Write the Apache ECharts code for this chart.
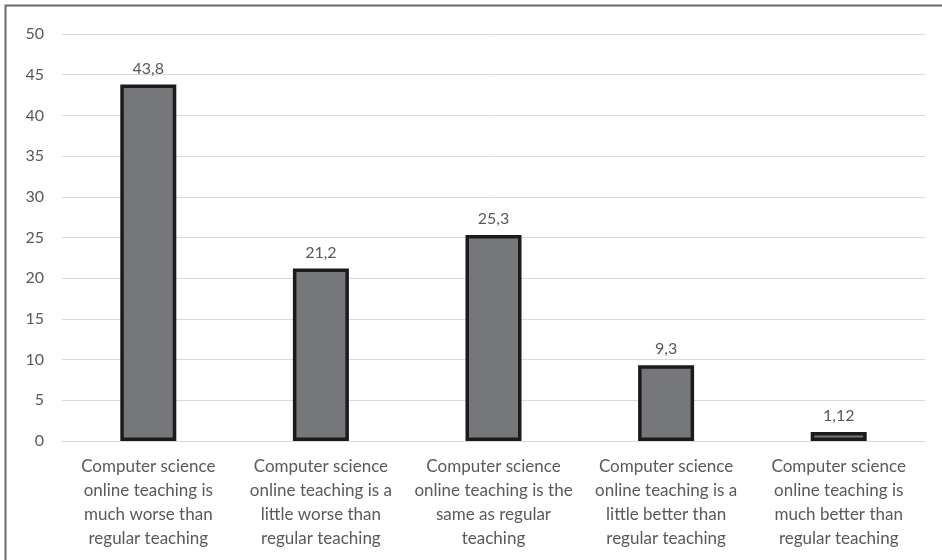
<!DOCTYPE html>
<html>
<head>
<meta charset="utf-8">
<script src="https://cdn.jsdelivr.net/npm/echarts@6.0.0/dist/echarts.min.js"></script>
<style>
  html, body { margin: 0; padding: 0; background: #fff; }
  #chart { width: 942px; height: 560px; }
</style>
</head>
<body>
<div id="chart"></div>
<script>
  // category labels (line breaks as in the original)
  var categories = [
    'Computer science\nonline teaching is\nmuch worse than\nregular teaching',
    'Computer science\nonline teaching is a\nlittle worse than\nregular teaching',
    'Computer science\nonline teaching is the\nsame as regular\nteaching',
    'Computer science\nonline teaching is a\nlittle better than\nregular teaching',
    'Computer science\nonline teaching is\nmuch better than\nregular teaching'
  ];
  var values = [43.8, 21.2, 25.3, 9.3, 1.12];

  var textColor = '#595959';
  var fontFamily = 'Lato, "Open Sans", sans-serif';

  var chart = echarts.init(document.getElementById('chart'));
  chart.setOption({
    animation: false,
    backgroundColor: '#fff',
    textStyle: { fontFamily: fontFamily },
    graphic: [{
      type: 'polyline',
      shape: { points: [[5.5, 560], [5.5, 5.5], [942, 5.5]] },
      style: { stroke: '#6b6b6b', lineWidth: 2, fill: null },
      silent: true
    }],
    grid: { left: 62, right: 17, top: 34, bottom: 119 },
    xAxis: {
      type: 'category',
      data: categories,
      axisTick: { show: false },
      axisLine: { show: true, lineStyle: { color: '#d9d9d9', width: 1 } },
      axisLabel: {
        color: textColor,
        fontSize: 17,
        lineHeight: 24,
        margin: 14,
        interval: 0,
        fontFamily: fontFamily
      }
    },
    yAxis: {
      type: 'value',
      min: 0,
      max: 50,
      interval: 5,
      axisLine: { show: false },
      axisTick: { show: false },
      splitLine: { lineStyle: { color: '#d9d9d9', width: 1 } },
      axisLabel: { color: textColor, fontSize: 16, margin: 18, fontFamily: fontFamily }
    },
    series: [{
      type: 'bar',
      data: values,
      barWidth: 56,
      itemStyle: { color: '#76777b', borderColor: '#1c1a1b', borderWidth: 3.5 },
      label: {
        show: true,
        position: 'top',
        distance: 8,
        color: textColor,
        fontSize: 16,
        fontFamily: fontFamily,
        formatter: function (p) { return String(p.value).replace('.', ','); }
      }
    }]
  });
</script>
</body>
</html>
